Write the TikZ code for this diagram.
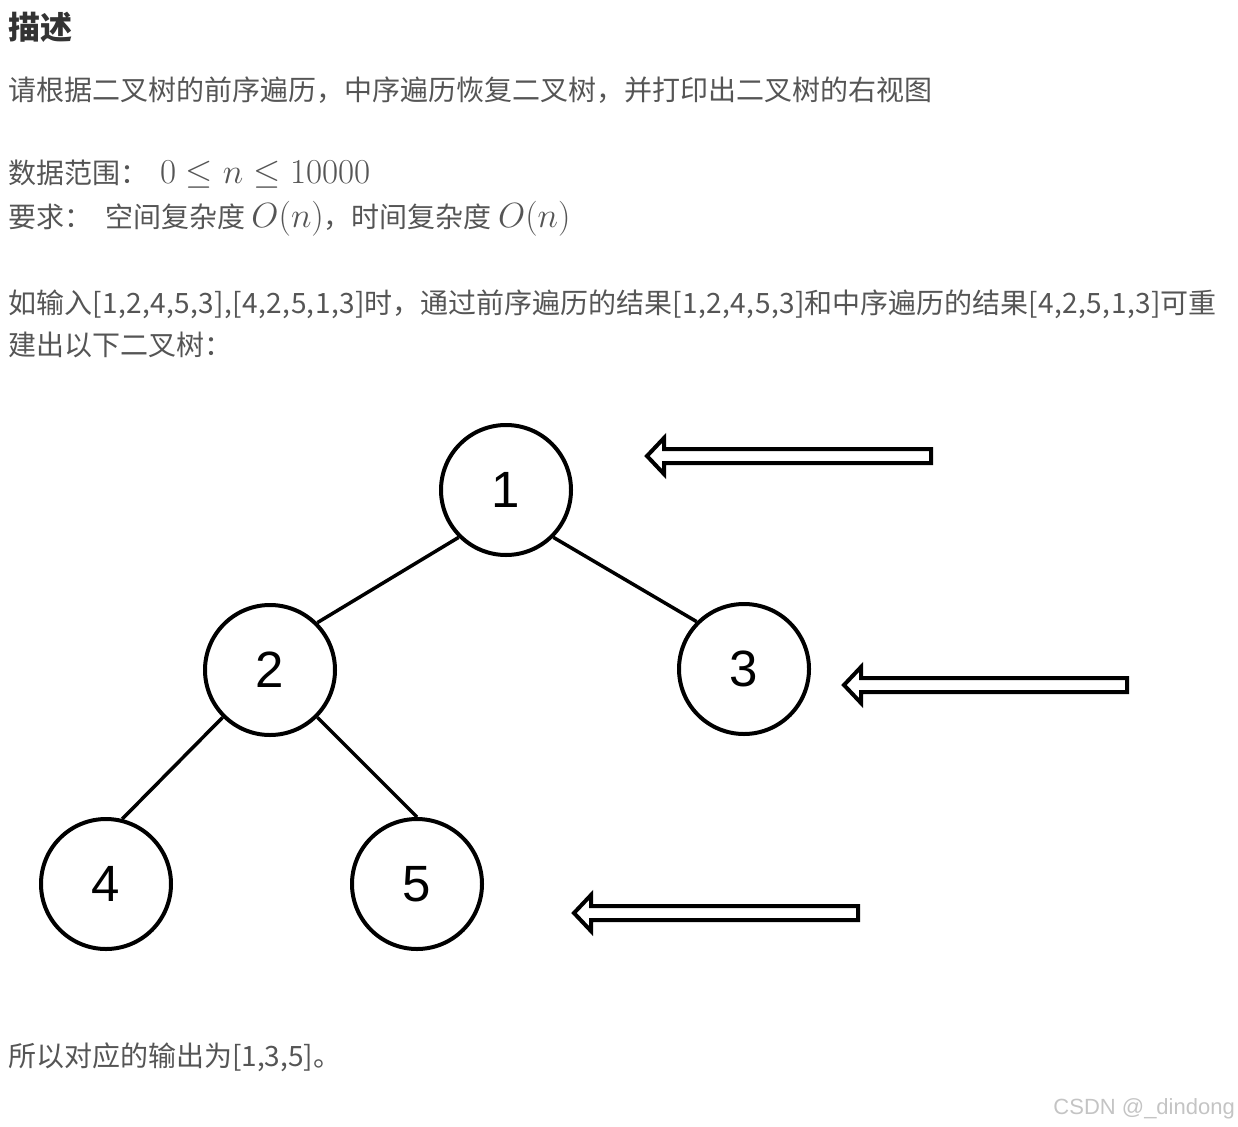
\RequirePackage{fix-cm}
\documentclass[tikz,border=0pt]{standalone}
\usepackage[no-math]{fontspec}
\newfontfamily\cjk{Noto Sans CJK SC}
\newfontfamily\arialfont{Liberation Sans}
\usepackage{tikz}
\definecolor{headgray}{HTML}{333333}
\definecolor{bodygray}{HTML}{555555}
\definecolor{markgray}{HTML}{C4C4C4}
\newcommand{\bigmath}[1]{{\fontsize{35}{40}\selectfont$#1$}}
\newcommand{\seq}[1]{{\addfontfeature{LetterSpace=1.5}#1}}

\begin{document}
\begin{tikzpicture}[x=1pt,y=-1pt,
  txt/.style={anchor=base west,inner sep=0pt,text=bodygray,font=\cjk\fontsize{28}{34}\selectfont},
  treenode/.style={circle,draw,line width=4pt,minimum size=130pt,inner sep=0pt,font=\arialfont\fontsize{51}{60}\selectfont},
  branch/.style={line width=3.5pt},
  hollow/.style={line width=4pt,line join=miter,fill=white}]
\useasboundingbox (0,0) rectangle (1238,1126);

% text
\node[txt,text=headgray,font=\cjk\bfseries\fontsize{32}{38}\selectfont] (title) at (8,40) {描述};
\node[txt] (line1) at (8,101) {请根据二叉树的前序遍历，中序遍历恢复二叉树，并打印出二叉树的右视图};
\node[txt] (range) at (8,183) {数据范围：\hspace{12pt}\bigmath{0 \leq n \leq 10000}};
\node[txt] (need) at (8,227) {要求：\hspace{13pt}空间复杂度 \bigmath{O(n)}，时间复杂度 \bigmath{O(n)}};
\node[txt] (ex1) at (8,313) {如输入\seq{[1,2,4,5,3],[4,2,5,1,3]}时，通过前序遍历的结果\seq{[1,2,4,5,3]}和中序遍历的结果\seq{[4,2,5,1,3]}可重};
\node[txt] (ex2) at (8,355) {建出以下二叉树：};
\node[txt] (result) at (8,1066) {所以对应的输出为[1,3,5]。};
\node[anchor=base east,inner sep=0pt,text=markgray,font=\arialfont\fontsize{22}{26}\selectfont] (mark) at (1235,1114) {CSDN @\_dindong};

% tree
\node[treenode] (n1) at (506,490) {1};
\node[treenode] (n2) at (270,670) {2};
\node[treenode] (n3) at (744,669) {3};
\node[treenode] (n4) at (106,884) {4};
\node[treenode] (n5) at (417,884) {5};
\draw[branch] (n1.south west) -- (n2.north east);
\draw[branch] (n1.south east) -- (n3.north west);
\draw[branch] (n2.south west) -- (n4.76);
\draw[branch] (n2.south east) -- (n5.north);

% right-view arrows
\foreach \tx/\ty/\ex in {647/456/931, 844/685/1127, 574/913/858}
  \draw[hollow] (\tx,\ty) -- ({\tx+17},{\ty-18}) -- ({\tx+17},{\ty-7}) -- (\ex,{\ty-7})
    -- (\ex,{\ty+7}) -- ({\tx+17},{\ty+7}) -- ({\tx+17},{\ty+18}) -- cycle;
\end{tikzpicture}
\end{document}
